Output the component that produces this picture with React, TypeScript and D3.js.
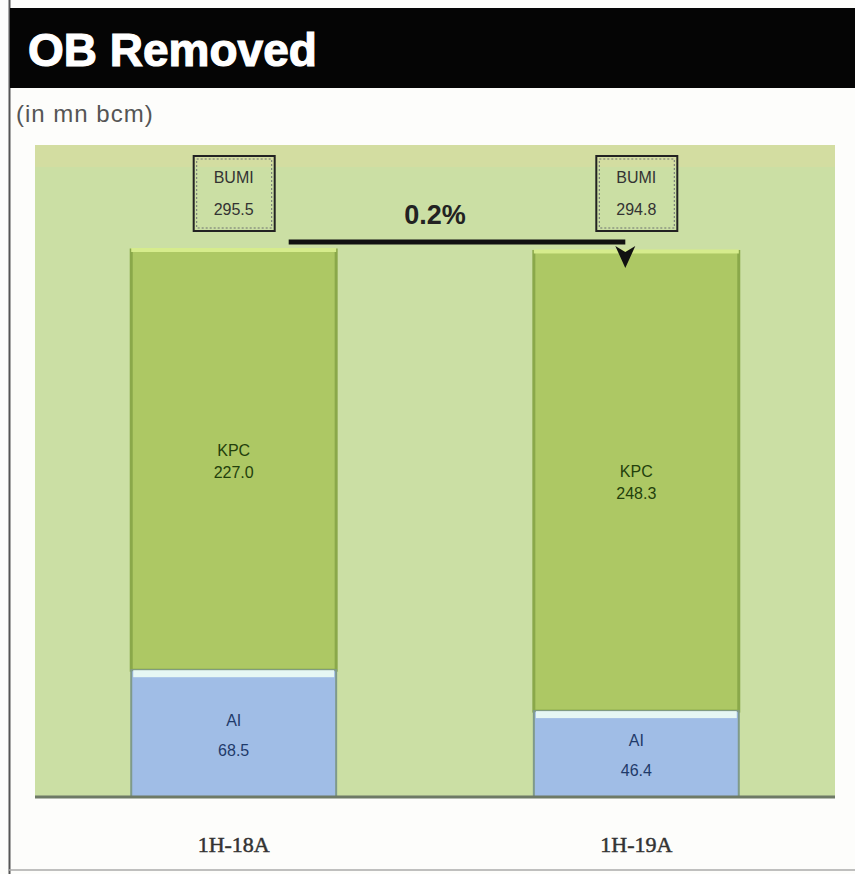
import React from 'react';
import * as d3 from 'd3';

const periods = ['1H-18A', '1H-19A'];
const aiValues = [68.5, 46.4];
const kpcValues = [227.0, 248.3];
const bumiTotals = [295.5, 294.8];
const changeLabel = '0.2%';

const width = 855;
const height = 874;

const App = () => {
    const plot = {left: 35, right: 835, top: 145, bottom: 797};

    const xScale = d3.scaleBand()
        .domain(periods)
        .range([plot.left, plot.right])
        .paddingInner(0.491)
        .paddingOuter(0.239);

    const yScale = d3.scaleLinear()
        .domain([0, 295.5])
        .range([plot.bottom, 250]);

    const bw = xScale.bandwidth();
    const cx = (p) => xScale(p) + bw / 2;

    const arrowY = yScale(d3.max(bumiTotals)) - 8;
    const arrowX0 = cx(periods[0]) + 55;
    const arrowX1 = cx(periods[1]) - 11;

    const labelFont = 'Liberation Sans Narrow, Liberation Sans, sans-serif';

    return (
        <svg width={width} height={height} style={{display: 'block', position: 'absolute', left: 0, top: 0}}>
            <rect x={0} y={0} width={width} height={height} fill='#fdfdfb'/>
            <line x1={9.5} x2={9.5} y1={0} y2={height} stroke='#555' strokeWidth={2}/>
            <line x1={9} x2={width} y1={870} y2={870} stroke='#aaa' strokeWidth={1.5}/>

            {/* title band */}
            <rect x={10} y={8} width={width - 10} height={80} fill='#050505'/>
            <text x={28} y={66} fill='#fff' fontFamily='Liberation Sans, Arial, sans-serif' fontWeight='bold' fontSize={46}
                stroke='#fff' strokeWidth={1.2}>OB Removed</text>
            <text x={16} y={122} fill='#555' fontFamily='Liberation Sans, Arial, sans-serif' fontSize={24} letterSpacing={1}>(in mn bcm)</text>

            {/* plot background */}
            <rect x={plot.left} y={plot.top} width={plot.right - plot.left} height={plot.bottom - plot.top} fill='#cbdfa4'/>
            <rect x={plot.left} y={plot.top} width={plot.right - plot.left} height={22} fill='#d5dca0' opacity={0.7}/>

            {periods.map((p, i) => {
                const x0 = xScale(p);
                const yAiTop = yScale(aiValues[i]);
                const yTop = yScale(aiValues[i] + kpcValues[i]);
                const kpcMid = (yTop + yAiTop) / 2;
                const aiMid = (yAiTop + plot.bottom) / 2;
                return (
                    <g key={p}>
                        <rect x={x0} y={yTop} width={bw} height={yAiTop - yTop} fill='#adc864' stroke='#8aa84a' strokeWidth={3}/>
                        <rect x={x0} y={yTop - 2} width={bw} height={4} fill='#d6ec8c'/>
                        <rect x={x0} y={yAiTop} width={bw} height={plot.bottom - yAiTop} fill='#a0bde6' stroke='#7f9a8a' strokeWidth={2}/>
                        <rect x={x0 + 2} y={yAiTop} width={bw - 4} height={7} fill='#e6f7f4'/>
                        <text x={cx(p)} y={kpcMid - 4} textAnchor='middle' fill='#23400c' fontFamily={labelFont} fontSize={16}>KPC</text>
                        <text x={cx(p)} y={kpcMid + 18} textAnchor='middle' fill='#23400c' fontFamily={labelFont} fontSize={16}>{kpcValues[i].toFixed(1)}</text>
                        <text x={cx(p)} y={aiMid - 8} textAnchor='middle' fill='#1f3a6a' fontFamily={labelFont} fontSize={16}>AI</text>
                        <text x={cx(p)} y={aiMid + 22} textAnchor='middle' fill='#1f3a6a' fontFamily={labelFont} fontSize={16}>{aiValues[i].toFixed(1)}</text>

                        {/* BUMI total box */}
                        <rect x={cx(p) - 40} y={156} width={81} height={75} fill='none' stroke='#222' strokeWidth={2}/>
                        <rect x={cx(p) - 37} y={159} width={75} height={69} fill='none' stroke='#556' strokeWidth={0.8} strokeDasharray='2 2'/>
                        <text x={cx(p)} y={183} textAnchor='middle' fill='#333' fontFamily={labelFont} fontSize={16}>BUMI</text>
                        <text x={cx(p)} y={215} textAnchor='middle' fill='#333' fontFamily={labelFont} fontSize={16}>{bumiTotals[i].toFixed(1)}</text>

                        <text x={cx(p)} y={852} textAnchor='middle' fill='#333' fontFamily='Liberation Serif, serif' fontSize={22}
                            stroke='#333' strokeWidth={0.5}>{p}</text>
                    </g>
                );
            })}

            {/* axis */}
            <line x1={plot.left} x2={plot.right} y1={plot.bottom} y2={plot.bottom} stroke='#6e7a66' strokeWidth={3}/>

            {/* change arrow */}
            <line x1={arrowX0} x2={arrowX1} y1={arrowY} y2={arrowY} stroke='#111' strokeWidth={5}/>
            <path d={`M${arrowX1 - 10},${arrowY + 4} L${arrowX1},${arrowY + 10} L${arrowX1 + 10},${arrowY + 4} L${arrowX1},${arrowY + 26} Z`} fill='#111'/>
            <text x={(arrowX0 + arrowX1) / 2 - 22} y={arrowY - 18} textAnchor='middle' fill='#222' fontFamily='Liberation Sans, Arial, sans-serif' fontWeight='bold' fontSize={27}>{changeLabel}</text>
        </svg>
    );
};

export default App;
